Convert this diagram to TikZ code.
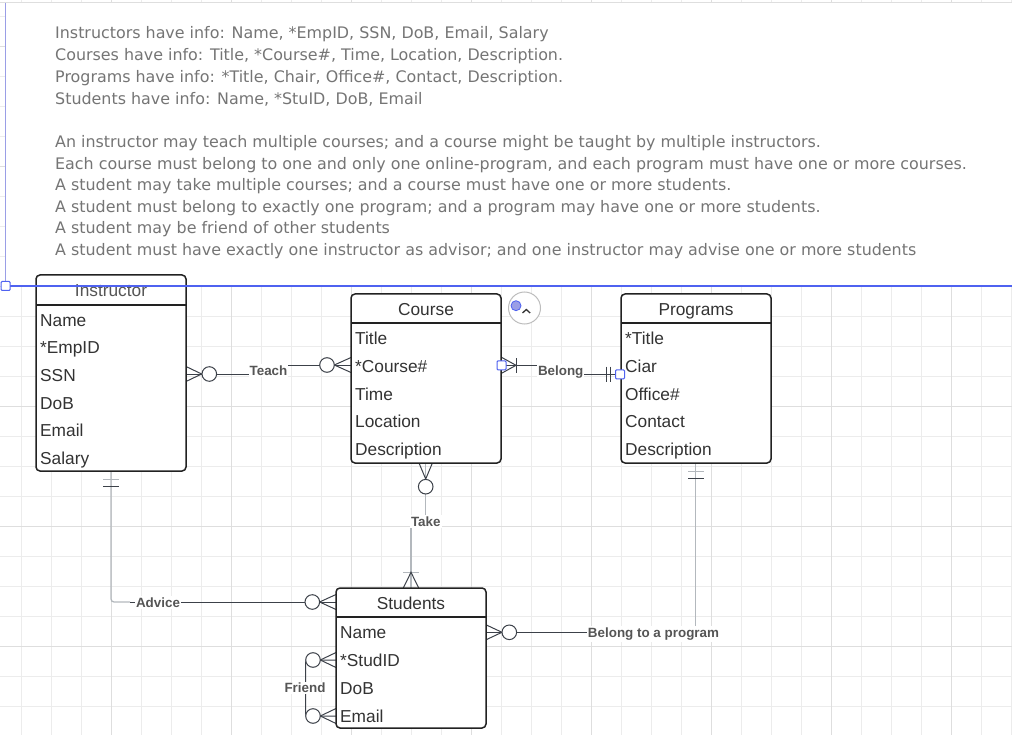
\documentclass[tikz,border=0pt]{standalone}
\usepackage{fontspec}
\setmainfont{Liberation Sans}
\newfontfamily\entfam{Liberation Sans}
\newfontfamily\topfam{DejaVu Sans}
\newcommand\entsize{\entfam\fontsize{17.3}{20}\selectfont}
\newcommand\relsize{\entfam\fontsize{13.4}{16}\selectfont\bfseries}
\newcommand\topsize{\topfam\fontsize{15.9}{19}\selectfont}
\definecolor{entc}{HTML}{222222}
\definecolor{txtc}{HTML}{333333}
\definecolor{relc}{HTML}{555555}
\definecolor{linec}{HTML}{3C4149}
\definecolor{lightc}{HTML}{B3B8BD}
\definecolor{gridmin}{HTML}{ECECEC}
\definecolor{gridmaj}{HTML}{DEDEDE}
\definecolor{bluec}{HTML}{4F62F0}
\definecolor{bluel}{HTML}{9A9EE6}
\definecolor{iconc}{HTML}{BDBDBD}
\definecolor{topc}{HTML}{757575}
\tikzset{
  ent/.style={draw=entc, line width=1.5pt, rounded corners=4pt, fill=white,
    minimum width=150pt, inner sep=0pt, outer sep=0pt, anchor=north west},
  hdrline/.style={draw=entc, line width=1.5pt},
  hdr/.style={font=\entsize, text=txtc, anchor=base, inner sep=0pt},
  attr/.style={font=\entsize, text=txtc, anchor=base west, inner sep=0pt},
  rel/.style={font=\relsize, text=relc, fill=white, inner xsep=1pt, inner ysep=1.5pt, anchor=base},
  conn/.style={draw=linec, line width=1pt},
  connl/.style={draw=lightc, line width=1.3pt},
  ocirc/.style={draw=linec, line width=1pt, fill=white},
  gmin/.style={draw=gridmin, line width=0.8pt},
  gmaj/.style={draw=gridmaj, line width=0.8pt},
  toptxt/.style={font=\topsize, text=topc, anchor=base west, inner sep=0pt},
  handle/.style={draw=bluec, fill=white, line width=1pt, minimum size=9pt, inner sep=0pt, rounded corners=1pt},
}
\begin{document}
\begin{tikzpicture}[x=1pt,y=-1pt]
\useasboundingbox (0,0) rectangle (1012,735);
% grid
\foreach \i in {0,...,33} \draw[gmin] ({21.7+30*\i},0) -- ({21.7+30*\i},735);
\foreach \j in {0,...,24} \draw[gmin] (0,{16.7+30*\j}) -- (1012,{16.7+30*\j});
\foreach \i in {3,7,...,31} \draw[gmaj] ({21.7+30*\i},0) -- ({21.7+30*\i},735);
\foreach \j in {1,5,...,21} \draw[gmaj] (0,{16.7+30*\j}) -- (1012,{16.7+30*\j});
% text area
\fill[white] (6,3) rectangle (1012,286);
\draw[gridmaj] (0,2.5) -- (1012,2.5);
\node[toptxt] (t1) at (55,38.8) {Instructors have info: Name, *EmpID, SSN, DoB, Email, Salary};
\node[toptxt] (t2) at (55,60.8) {Courses have info: Title, *Course\#, Time, Location, Description.};
\node[toptxt] (t3) at (55,82.8) {Programs have info: *Title, Chair, Office\#, Contact, Description.};
\node[toptxt] (t4) at (55,104.3) {Students have info: Name, *StuID, DoB, Email};
\node[toptxt] (t5) at (55,147.8) {An instructor may teach multiple courses; and a course might be taught by multiple instructors.};
\node[toptxt] (t6) at (55,169.3) {Each course must belong to one and only one online-program, and each program must have one or more courses.};
\node[toptxt] (t7) at (55,190.8) {A student may take multiple courses; and a course must have one or more students.};
\node[toptxt] (t8) at (55,212.8) {A student must belong to exactly one program; and a program may have one or more students.};
\node[toptxt] (t9) at (55,233.8) {A student may be friend of other students};
\node[toptxt] (t10) at (55,255.8) {A student must have exactly one instructor as advisor; and one instructor may advise one or more students};

% ===== connectors =====
% Teach
\coordinate (teachA) at (186,374);
\coordinate (teachB) at (351,365);
\draw[conn] (teachA) -- (268,374) -- (268,365) -- (teachB);
\draw[conn] (186,366.5) -- (201.7,374) -- (186,381.5);
\draw[ocirc] (209.3,374) circle[radius=7.3pt];
\draw[conn] (351,357.5) -- (334.3,365) -- (351,372.5);
\draw[ocirc] (327,365) circle[radius=7.3pt];
\node[rel] (teach) at (268.5,375) {Teach};
% Belong
\coordinate (belA) at (501,365.3);
\coordinate (belB) at (621,374.3);
\draw[conn] (belA) -- (561,365.3) -- (561,374.3) -- (belB);
\draw[conn] (501,357) -- (516,365.3) -- (501,373.6);
\draw[conn] (516.8,358) -- (516.8,372.5);
\draw[conn] (606,366.5) -- (606,381.5);
\draw[conn] (610.7,366.5) -- (610.7,381.5);
\node[rel] (belong) at (560.7,375.3) {Belong};
% Take
\coordinate (takeA) at (425.7,463);
\coordinate (takeB) at (411,588);
\draw[connl] (takeA) -- (425.7,521) -- (411,521) -- (takeB);
\draw[conn] (419,463) -- (425.7,479) -- (432.4,463);
\draw[ocirc] (425.7,486.7) circle[radius=7.3pt];
\draw[connl] (403,572.3) -- (419,572.3);
\draw[conn] (403.3,588) -- (411,572.3) -- (418.7,588);
\node[rel] (take) at (425.8,526) {Take};
% Advice
\coordinate (advA) at (111,471);
\coordinate (advB) at (336,602);
\draw[connl, rounded corners=3pt] (advA) -- (111,602) -- (130,602);
\draw[conn] (130,602) -- (advB);
\draw[connl] (103.3,479.3) -- (119,479.3);
\draw[conn] (103.3,486.7) -- (119,486.7);
\draw[conn] (336,594.5) -- (319.6,602) -- (336,609.5);
\draw[ocirc] (312.3,602) circle[radius=7.3pt];
\node[rel] (advice) at (158,607.7) {Advice};
% Friend
\coordinate (frA) at (336,660);
\coordinate (frB) at (336,716);
\draw[conn, rounded corners=2pt] (frA) -- (305.7,660) -- (305.7,716) -- (frB);
\draw[conn] (336,652.5) -- (320.3,660) -- (336,667.5);
\draw[ocirc] (313,660) circle[radius=7.3pt];
\draw[conn] (336,708.5) -- (320.3,716) -- (336,723.5);
\draw[ocirc] (313,716) circle[radius=7.3pt];
\node[rel] (friend) at (305,692.8) {Friend};
% Belong to a program
\coordinate (btpA) at (486,632.3);
\coordinate (btpB) at (695.8,463);
\draw[conn] (btpA) -- (695.8,632.3);
\draw[connl] (695.8,632.3) -- (btpB);
\draw[conn] (486,624.8) -- (502,632.3) -- (486,639.8);
\draw[ocirc] (509.3,632.3) circle[radius=7.3pt];
\draw[connl] (688,471.7) -- (703.5,471.7);
\draw[conn] (688,478.3) -- (703.5,478.3);
\node[rel] (btp) at (653.5,637.3) {Belong to a program};

% ===== entities =====
% Instructor
\node[ent, minimum height=196pt] (instr) at (36,275) {};
\draw[hdrline] ([yshift=-30pt]instr.north west) -- ([yshift=-30pt]instr.north east);
\node[hdr, text=relc] (instrT) at (111,296.5) {Instructor};
\node[attr] (iName) at (40,326.2) {Name};
\node[attr] (iEmp) at (40,353.7) {*EmpID};
\node[attr] (iSSN) at (40,381.2) {SSN};
\node[attr] (iDoB) at (40,409.2) {DoB};
\node[attr] (iMail) at (40,436.7) {Email};
\node[attr] (iSal) at (40,464.2) {Salary};
% Course
\node[ent, minimum height=169pt] (course) at (351,294) {};
\draw[hdrline] ([yshift=-29pt]course.north west) -- ([yshift=-29pt]course.north east);
\node[hdr] (courseT) at (426,315.2) {Course};
\node[attr] (cTitle) at (355,344.2) {Title};
\node[attr] (cNum) at (355,372.2) {*Course\#};
\node[attr] (cTime) at (355,400.2) {Time};
\node[attr] (cLoc) at (355,427.2) {Location};
\node[attr] (cDesc) at (355,455.2) {Description};
% Programs
\node[ent, minimum height=169pt] (prog) at (621,294) {};
\draw[hdrline] ([yshift=-29pt]prog.north west) -- ([yshift=-29pt]prog.north east);
\node[hdr] (progT) at (696,315.2) {Programs};
\node[attr] (pTitle) at (625,344.2) {*Title};
\node[attr] (pCiar) at (625,372.2) {Ciar};
\node[attr] (pOff) at (625,400.2) {Office\#};
\node[attr] (pCont) at (625,427.2) {Contact};
\node[attr] (pDesc) at (625,455.2) {Description};
% Students
\node[ent, minimum height=140pt] (stud) at (336,588) {};
\draw[hdrline] ([yshift=-29pt]stud.north west) -- ([yshift=-29pt]stud.north east);
\node[hdr] (studT) at (411,609.2) {Students};
\node[attr] (sName) at (340,638.2) {Name};
\node[attr] (sID) at (340,666.2) {*StudID};
\node[attr] (sDoB) at (340,694.2) {DoB};
\node[attr] (sMail) at (340,722.2) {Email};

% handles on Belong
\node[handle] (hA) at (501.5,365.3) {};
\node[handle] (hB) at (620,374.3) {};
% small icon
\draw[draw=iconc, line width=1pt, fill=white] (524.5,308) circle[radius=16pt];
\draw[draw=bluec, fill=bluel, line width=0.8pt] (516,305.7) circle[radius=5pt];
\draw[draw=txtc, line width=1.3pt] (522.5,313) -- (526.3,309.5) -- (530.1,313);

% selection lines
\draw[draw=bluel, line width=1pt] (5.7,3) -- (5.7,286);
\draw[draw=bluec, line width=1.1pt] (5.7,286) -- (1012,286);
\node[handle] (hC) at (5.7,286) {};
\end{tikzpicture}
\end{document}
